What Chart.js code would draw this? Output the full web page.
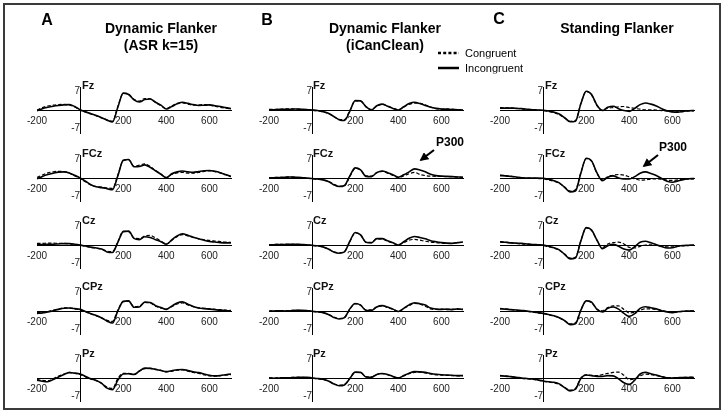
<!DOCTYPE html>
<html>
<head>
<meta charset="utf-8">
<script src="https://cdn.jsdelivr.net/npm/chart.js@4.4.1/dist/chart.umd.min.js"></script>
<style>
  body { margin: 0; background: #fff; font-family: "Liberation Sans", Arial, sans-serif; }
  #fig { position: relative; width: 725px; height: 413px; overflow: hidden; background: #fff; }
  #fig canvas { position: absolute; }
  .txt { position: absolute; white-space: nowrap; color: #000; line-height: 1; transform: translate(-50%, -50%); will-change: transform; }
  .lbl { position: absolute; white-space: nowrap; color: #111; line-height: 1; font-weight: bold; font-size: 11px; transform: translateY(-50%); will-change: transform; }
  svg { position: absolute; left: 0; top: 0; }
</style>
</head>
<body>
<div id="fig">
  <div class="txt" style="left:47px;top:20px;font-size:16px;font-weight:bold">A</div>
  <div class="txt" style="left:267px;top:20px;font-size:16px;font-weight:bold">B</div>
  <div class="txt" style="left:499px;top:19px;font-size:16px;font-weight:bold">C</div>
  <div class="txt" style="left:161px;top:28px;font-size:14px;font-weight:bold">Dynamic Flanker</div>
  <div class="txt" style="left:161px;top:45px;font-size:14px;font-weight:bold">(ASR k=15)</div>
  <div class="txt" style="left:385px;top:28px;font-size:14px;font-weight:bold">Dynamic Flanker</div>
  <div class="txt" style="left:385px;top:45px;font-size:14px;font-weight:bold">(iCanClean)</div>
  <div class="txt" style="left:617px;top:28px;font-size:14px;font-weight:bold">Standing Flanker</div>
  <div class="txt" style="left:450px;top:142px;font-size:12px;font-weight:bold">P300</div>
  <div class="txt" style="left:673px;top:147px;font-size:12px;font-weight:bold">P300</div>
  <div class="txt" style="left:465px;top:53px;font-size:11px;transform:translateY(-50%)">Congruent</div>
  <div class="txt" style="left:465px;top:68px;font-size:11px;transform:translateY(-50%)">Incongruent</div>
</div>
<script>
// time axis (ms) shared by every panel
const times = [-200,-175,-150,-125,-100,-75,-50,-25,0,25,50,75,100,125,150,175,200,225,250,275,300,325,350,375,400,425,450,475,500,525,550,575,600,625,650,675,700];
const xTickValues = [-200, 200, 400, 600];
const yTickValues = [-7, 7];
const electrodes = ['Fz', 'FCz', 'Cz', 'CPz', 'Pz'];

// A: Dynamic Flanker (ASR k=15)
const asrFzInc  = [-0.3,0.5,1.0,1.4,1.7,1.9,2.0,1.3,0.1,-0.7,-1.4,-2.1,-2.9,-3.8,-4.5,1.0,6.3,5.8,3.8,3.0,3.9,4.1,2.9,1.8,0.4,1.3,2.3,2.9,2.5,2.0,1.7,1.8,1.9,1.6,1.3,0.9,0.5];
const asrFzCon  = [0.0,0.9,1.5,1.8,2.0,2.1,1.9,1.1,0.0,-0.8,-1.5,-2.2,-3.0,-3.7,-4.2,1.3,6.2,5.9,4.0,3.3,4.3,4.2,2.8,1.6,0.5,1.5,2.5,2.7,2.2,1.8,1.9,2.0,1.8,1.4,1.0,0.7,0.4];
const asrFCzInc = [-0.3,0.6,1.3,1.8,2.2,2.3,1.9,1.0,0.0,-1.2,-2.5,-3.3,-3.6,-4.0,-4.4,0.8,6.6,6.9,4.2,4.3,4.9,4.0,2.7,1.4,0.1,1.6,2.3,2.6,2.3,2.1,2.4,2.7,2.8,2.5,2.0,1.3,0.6];
const asrFCzCon = [0.2,1.1,1.9,2.3,2.5,2.4,1.8,0.8,-0.2,-1.4,-2.6,-3.2,-3.4,-3.7,-3.9,1.1,6.5,6.8,4.4,4.8,5.3,4.3,2.8,1.4,0.2,1.3,1.9,2.1,1.8,1.8,2.1,2.5,2.7,2.4,1.9,1.2,0.5];
const asrCzInc  = [0.1,0.2,0.3,0.3,0.4,0.5,0.5,0.3,0.0,-0.4,-0.8,-1.1,-1.5,-2.6,-2.8,1.0,5.0,5.2,2.5,2.0,3.1,2.8,2.0,1.2,0.3,1.9,3.4,4.2,3.6,2.9,2.3,1.8,1.3,1.1,0.9,0.8,0.8];
const asrCzCon  = [0.6,0.6,0.7,0.7,0.6,0.6,0.4,0.2,-0.1,-0.5,-0.9,-1.2,-1.6,-2.3,-2.5,1.2,5.1,5.0,2.6,2.4,3.4,3.6,2.6,1.5,0.4,1.7,3.1,3.9,3.4,2.8,2.3,2.0,1.7,1.5,1.3,1.1,1.0];
const asrCPzInc = [-0.9,-0.7,-0.4,0.1,0.6,1.0,1.1,0.9,0.6,-0.2,-1.0,-1.7,-2.6,-3.8,-4.5,0.0,3.6,3.8,1.4,1.5,3.3,3.2,2.0,1.3,0.6,1.8,3.0,3.4,2.5,1.7,1.1,0.9,0.7,0.5,0.3,0.2,0.0];
const asrCPzCon = [-0.6,-0.5,-0.2,0.3,0.8,1.2,1.2,0.8,0.4,-0.3,-1.1,-1.8,-2.5,-3.5,-3.9,0.4,3.5,3.7,1.6,1.8,3.2,3.0,1.8,1.1,0.7,1.6,2.6,3.0,2.3,1.6,1.2,1.0,0.8,0.6,0.5,0.3,0.2];
const asrPzInc  = [-0.8,-1.2,-1.4,-0.6,0.4,1.3,2.0,1.8,1.5,0.6,-0.3,-0.9,-2.0,-3.8,-4.4,-0.8,1.5,1.6,1.3,2.6,3.7,3.6,3.2,2.8,2.4,2.7,3.1,3.2,2.8,2.3,2.0,1.5,1.0,0.8,0.9,1.2,1.5];
const asrPzCon  = [-0.5,-0.9,-1.0,-0.3,0.7,1.5,2.1,1.8,1.3,0.4,-0.4,-1.0,-2.0,-3.4,-3.9,-0.2,1.7,1.7,1.4,2.5,3.5,3.6,3.3,2.9,2.3,2.5,2.9,3.0,2.6,2.1,1.7,1.2,0.8,0.7,0.9,1.1,1.3];

// B: Dynamic Flanker (iCanClean)
const iccFzInc  = [0.0,0.1,0.3,0.3,0.3,0.4,0.3,0.2,0.0,-0.2,-0.6,-1.2,-2.4,-3.6,-3.9,-0.4,3.5,3.4,1.2,0.0,1.6,2.2,1.4,0.6,0.0,1.2,2.4,2.9,2.4,1.7,1.0,0.6,0.4,0.3,0.2,0.1,0.0];
const iccFzCon  = [0.2,0.2,0.2,0.4,0.4,0.3,0.2,0.0,-0.1,-0.3,-0.7,-1.3,-2.4,-3.5,-3.6,-0.2,3.4,3.3,1.3,0.2,1.5,2.1,1.5,0.7,0.1,1.1,2.1,2.6,2.5,1.9,1.1,0.5,0.2,0.4,0.3,0.0,-0.1];
const iccFCzInc = [0.0,0.1,0.2,0.3,0.4,0.3,0.2,0.0,-0.2,-0.4,-0.7,-1.3,-2.5,-3.2,-2.8,0.8,3.8,3.0,0.6,0.5,2.0,2.6,2.0,1.2,0.3,1.2,2.3,3.4,3.0,2.3,1.4,0.9,0.7,0.6,0.5,0.4,0.3];
const iccFCzCon = [0.1,0.2,0.2,0.3,0.3,0.2,0.1,-0.1,-0.3,-0.5,-0.7,-1.2,-2.3,-3.1,-2.9,0.5,3.6,3.0,0.8,0.7,2.0,2.5,1.8,1.0,0.2,0.8,1.6,2.1,1.3,0.9,0.7,0.6,0.6,0.5,0.5,0.3,0.2];
const iccCzInc  = [0.0,0.1,0.2,0.2,0.3,0.3,0.2,0.1,-0.1,-0.3,-0.7,-1.5,-2.6,-3.1,-2.6,1.4,4.7,3.8,1.0,0.8,2.4,2.4,1.6,0.8,0.0,1.2,2.5,3.2,2.8,2.3,1.6,1.2,0.9,0.7,0.6,0.9,1.1];
const iccCzCon  = [0.1,0.2,0.2,0.3,0.2,0.2,0.1,0.0,-0.2,-0.4,-0.8,-1.5,-2.5,-2.9,-2.4,1.3,4.5,3.7,1.1,1.0,2.3,2.2,1.4,0.7,0.1,0.9,1.8,2.1,1.8,1.4,1.1,0.9,0.7,0.6,0.7,0.9,1.0];
const iccCPzInc = [-0.1,0.0,0.1,0.0,0.1,0.3,0.3,0.2,-0.1,-0.3,-0.6,-1.3,-2.4,-3.0,-2.5,0.8,2.8,2.2,0.2,0.2,1.5,2.0,1.5,0.7,-0.2,1.0,2.3,3.1,2.7,2.2,1.1,0.7,0.6,0.7,0.5,0.8,0.6];
const iccCPzCon = [0.0,0.1,0.0,0.1,0.2,0.2,0.2,0.0,-0.2,-0.4,-0.6,-1.2,-2.2,-2.8,-2.4,0.7,2.7,2.2,0.4,0.4,1.6,1.9,1.3,0.6,-0.1,0.9,2.0,2.8,2.6,1.8,0.8,0.6,0.7,0.5,0.7,0.6,0.7];
const iccPzInc  = [0.0,-0.1,0.0,0.1,0.1,0.2,0.3,0.3,0.0,-0.2,-0.5,-1.1,-2.2,-2.9,-2.6,-0.2,2.2,2.1,0.4,0.3,1.3,1.7,1.3,0.6,0.0,0.9,1.8,2.4,2.3,2.1,1.7,1.4,1.2,1.1,1.0,0.9,0.9];
const iccPzCon  = [0.1,0.0,0.1,0.0,0.2,0.2,0.2,0.1,-0.1,-0.3,-0.6,-1.1,-2.1,-2.7,-2.4,-0.1,2.1,2.0,0.5,0.4,1.3,1.6,1.2,0.5,0.1,0.8,1.6,2.1,2.2,1.9,1.5,1.2,1.1,1.0,0.9,0.8,0.9];

// C: Standing Flanker
const stdFzInc  = [0.7,0.7,0.7,0.6,0.5,0.3,0.1,0.0,-0.1,-0.4,-0.8,-1.5,-2.9,-4.4,-4.2,2.3,7.0,5.8,1.8,-0.2,1.0,1.4,0.5,-0.2,-0.5,0.6,2.0,2.6,2.2,1.5,0.5,-0.3,-0.7,-0.8,-0.5,-0.3,-0.2];
const stdFzCon  = [0.9,0.8,0.8,0.6,0.4,0.2,0.0,-0.1,-0.2,-0.6,-1.0,-1.8,-3.0,-4.2,-3.9,2.4,7.0,5.6,1.6,0.0,0.7,0.9,1.2,1.3,0.9,0.6,0.3,0.1,0.1,0.0,-0.2,-0.4,-0.6,-0.7,-0.5,-0.4,-0.3];
const stdFCzInc = [0.9,0.8,0.6,0.4,0.1,0.0,0.0,0.0,-0.1,-0.5,-1.0,-1.8,-3.5,-5.2,-4.9,1.8,7.4,6.4,1.9,-1.0,0.3,0.8,0.0,-0.4,-0.4,0.5,1.8,2.3,1.7,0.9,-0.2,-1.2,-1.6,-1.1,-0.6,-0.3,-0.2];
const stdFCzCon = [1.1,0.9,0.6,0.3,0.1,0.0,-0.1,-0.2,-0.3,-0.7,-1.2,-2.0,-3.4,-4.9,-4.4,2.0,7.2,6.2,1.7,-0.7,0.5,1.0,1.3,1.1,0.4,-0.3,-0.8,-0.7,-0.4,-0.3,-0.5,-0.8,-0.9,-0.7,-0.5,-0.4,-0.3];
const stdCzInc  = [1.1,1.0,0.8,0.7,0.6,0.4,0.2,0.1,0.0,-0.5,-1.0,-1.8,-3.5,-5.2,-4.9,1.5,6.5,5.6,1.8,-1.4,-0.3,0.3,-0.5,-1.5,-1.9,-0.6,1.0,1.4,0.8,0.1,-0.6,-1.1,-1.0,-0.5,-0.2,-0.1,0.0];
const stdCzCon  = [1.3,1.1,0.8,0.6,0.4,0.3,0.1,0.0,-0.2,-0.7,-1.2,-2.0,-3.4,-4.9,-4.6,1.6,6.4,5.4,1.7,-1.0,0.4,0.9,1.1,0.4,-0.9,-1.1,-0.5,0.0,0.1,-0.1,-0.4,-0.7,-0.7,-0.5,-0.3,-0.2,-0.1];
const stdCPzInc = [0.8,0.7,0.5,0.4,0.2,0.0,-0.3,-0.6,-0.9,-1.3,-1.8,-2.5,-3.6,-5.1,-4.8,0.3,3.8,3.3,0.6,-0.4,1.0,1.5,0.7,-0.9,-2.0,-1.0,1.0,1.6,1.2,0.8,0.1,-0.4,-0.6,-0.3,-0.1,0.0,0.0];
const stdCPzCon = [1.0,0.8,0.5,0.3,0.1,-0.1,-0.4,-0.7,-1.0,-1.4,-1.9,-2.6,-3.7,-4.8,-4.4,0.4,3.7,3.1,0.7,0.1,1.3,1.9,1.9,0.6,-0.7,-0.5,0.3,0.8,0.8,0.6,0.2,-0.2,-0.4,-0.3,-0.1,0.0,0.1];
const stdPzInc  = [0.8,0.7,0.5,0.3,0.0,-0.2,-0.4,-0.7,-1.1,-1.4,-1.6,-2.2,-3.6,-4.8,-4.2,-0.2,1.1,0.9,0.6,0.6,0.9,0.8,-0.3,-1.8,-2.4,-0.8,1.5,2.1,1.6,1.1,0.5,0.1,0.0,0.1,0.2,0.2,0.2];
const stdPzCon  = [1.0,0.8,0.5,0.2,-0.1,-0.3,-0.5,-0.8,-1.2,-1.5,-1.8,-2.4,-3.5,-4.5,-3.9,0.0,1.2,1.0,0.9,1.3,1.7,2.1,2.2,1.0,-0.6,-0.3,0.8,1.4,1.3,0.9,0.5,0.2,0.1,0.1,0.2,0.3,0.3];

const columns = [
  [[asrFzInc, asrFzCon], [asrFCzInc, asrFCzCon], [asrCzInc, asrCzCon], [asrCPzInc, asrCPzCon], [asrPzInc, asrPzCon]],
  [[iccFzInc, iccFzCon], [iccFCzInc, iccFCzCon], [iccCzInc, iccCzCon], [iccCPzInc, iccCPzCon], [iccPzInc, iccPzCon]],
  [[stdFzInc, stdFzCon], [stdFCzInc, stdFCzCon], [stdCzInc, stdCzCon], [stdCPzInc, stdCPzCon], [stdPzInc, stdPzCon]]
];

// layout: pixel of the y axis for each column, pixel of the zero line for each row
const colX = [80.5, 311.7, 543];
const rowY = [108, 175.5, 242.5, 309, 376];
const areaW = 194, areaH = 50;
const padL = 24, padR = 10, padT = 6, padB = 18;

const fig = document.getElementById('fig');

function toPoints(vals) {
  return times.map((t, i) => ({ x: t, y: vals[i] }));
}

function makePanel(ox, oy, inc, con, name) {
  const c = document.createElement('canvas');
  const w = areaW + padL + padR, h = areaH + padT + padB;
  c.width = w; c.height = h;
  c.style.width = w + 'px'; c.style.height = h + 'px';
  c.style.left = (Math.round(ox - 200 * areaW / 900) - padL) + 'px';
  c.style.top = (Math.round(oy - areaH / 2) - padT) + 'px';
  fig.appendChild(c);

  const lbl = document.createElement('div');
  lbl.className = 'lbl';
  lbl.textContent = name;
  lbl.style.left = (ox + 1.5) + 'px';
  lbl.style.top = (oy - 23) + 'px';
  fig.appendChild(lbl);

  new Chart(c, {
    type: 'line',
    data: {
      datasets: [
        { label: 'Incongruent', data: toPoints(inc), borderColor: '#000', borderWidth: 1.6,
          pointRadius: 0, cubicInterpolationMode: 'monotone', fill: false },
        { label: 'Congruent', data: toPoints(con), borderColor: '#000', borderWidth: 1.2,
          borderDash: [3.5, 2], pointRadius: 0, cubicInterpolationMode: 'monotone', fill: false }
      ]
    },
    options: {
      responsive: false,
      animation: false,
      events: [],
      layout: { padding: { left: padL, right: padR, top: padT, bottom: padB } },
      plugins: { legend: { display: false }, tooltip: { enabled: false } },
      scales: {
        x: {
          type: 'linear', min: -200, max: 700, position: { y: 0 },
          grid: { display: false, drawTicks: false },
          border: { display: true, color: '#000', width: 1 },
          afterFit: s => { s.height = 0; },
          afterBuildTicks: s => { s.ticks = xTickValues.map(v => ({ value: v })); },
          ticks: { autoSkip: false, maxRotation: 0, padding: 5, color: '#222',
                   font: { family: '"Liberation Sans", Arial', size: 10 }, callback: v => String(v) }
        },
        y: {
          type: 'linear', min: -8.6, max: 8.6, position: { x: 0 },
          grid: { display: false, drawTicks: false },
          border: { display: true, color: '#000', width: 1 },
          afterFit: s => { s.width = 0; },
          afterBuildTicks: s => { s.ticks = yTickValues.map(v => ({ value: v })); },
          ticks: { autoSkip: false, padding: 4, color: '#222',
                   font: { family: '"Liberation Sans", Arial', size: 10 }, callback: v => String(v) }
        }
      }
    }
  });
}

columns.forEach((col, ci) => {
  col.forEach((pair, ri) => makePanel(colX[ci], rowY[ri], pair[0], pair[1], electrodes[ri]));
});

// overlay: outer frame, legend keys, P300 arrows
const ns = 'http://www.w3.org/2000/svg';
const svg = document.createElementNS(ns, 'svg');
svg.setAttribute('width', 725); svg.setAttribute('height', 413);
svg.innerHTML =
  '<defs><marker id="ah" viewBox="0 0 10 10" refX="8" refY="5" markerWidth="4" markerHeight="4" orient="auto">' +
  '<path d="M0,0 L10,5 L0,10 z" fill="#000"/></marker></defs>' +
  '<rect x="4" y="4" width="716" height="405" fill="none" stroke="#3a3a3a" stroke-width="2"/>' +
  '<line x1="438" y1="53" x2="459" y2="53" stroke="#000" stroke-width="2.5" stroke-dasharray="3,2.2"/>' +
  '<line x1="438" y1="68" x2="459" y2="68" stroke="#000" stroke-width="2.5"/>' +
  '<line x1="434" y1="150" x2="421" y2="160" stroke="#000" stroke-width="2.2" marker-end="url(#ah)"/>' +
  '<line x1="658" y1="155" x2="644" y2="166" stroke="#000" stroke-width="2.2" marker-end="url(#ah)"/>';
fig.appendChild(svg);
</script>
</body>
</html>
